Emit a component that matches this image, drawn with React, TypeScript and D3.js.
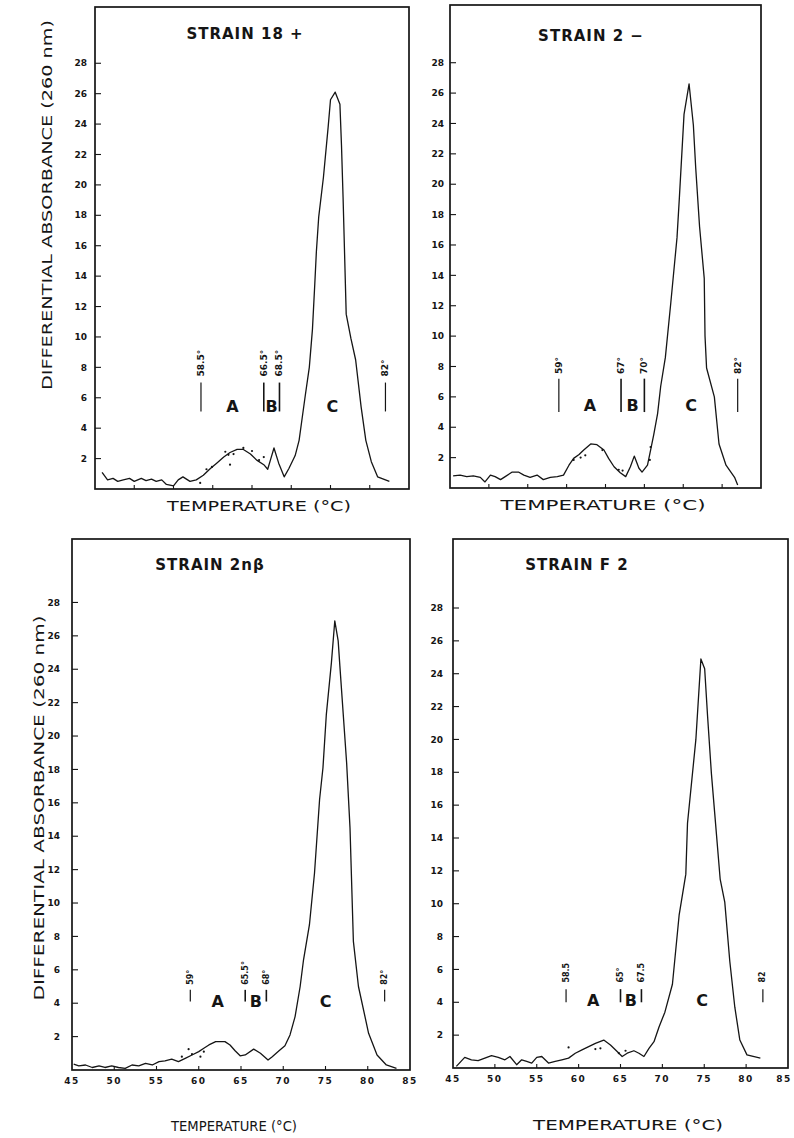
import React from "react";
import * as d3 from "d3";

// shared axis values
const tempTicks = [45, 50, 55, 60, 65, 70, 75, 80, 85];
const absTicks = [2, 4, 6, 8, 10, 12, 14, 16, 18, 20, 22, 24, 26, 28];
const regionNames = ["A", "B", "C"];

// STRAIN 18 +
const s18Temp = [45.9, 46.6, 47.3, 47.9, 48.6, 49.4, 50.0, 50.9, 51.5, 52.2, 52.8, 53.5, 54.1, 55.0, 55.6, 56.2, 57.1, 57.9, 58.8, 59.7, 60.5, 61.4, 62.2, 63.1, 63.9, 64.8, 65.6, 66.5, 67.0, 67.4, 67.8, 68.4, 69.1, 69.7, 70.5, 71.0, 71.4, 71.8, 72.3, 72.7, 73.0, 73.2, 73.5, 74.1, 74.7, 75.0, 75.6, 76.2, 76.4, 76.6, 77.0, 77.6, 78.2, 78.9, 79.5, 80.2, 81.0, 82.5];
const s18Abs = [1.1, 0.6, 0.7, 0.5, 0.6, 0.7, 0.5, 0.7, 0.55, 0.65, 0.5, 0.6, 0.3, 0.2, 0.6, 0.8, 0.5, 0.6, 0.9, 1.35, 1.7, 2.1, 2.4, 2.6, 2.6, 2.3, 1.9, 1.6, 1.3, 2.0, 2.7, 1.7, 0.8, 1.35, 2.2, 3.2, 4.7, 6.2, 8.0, 10.5, 13.5, 15.6, 17.9, 20.5, 23.8, 25.6, 26.1, 25.3, 22.6, 19.2, 11.5, 9.9, 8.5, 5.4, 3.2, 1.8, 0.8, 0.5];
const s18DotTemp = [58.4, 59.2, 59.9, 61.6, 62.0, 62.2, 62.65, 63.9, 65.0, 65.9, 66.5];
const s18DotAbs = [0.4, 1.3, 1.45, 2.45, 2.25, 1.6, 2.3, 2.7, 2.5, 1.9, 2.1];
const s18Bounds = [58.5, 66.5, 68.5, 82];
const s18BoundLabels = ["58.5°", "66.5°", "68.5°", "82°"];

// STRAIN 2 −
const s2Temp = [45.4, 46.3, 47.15, 48.0, 48.9, 49.5, 50.2, 50.8, 51.5, 52.1, 53.0, 53.8, 54.5, 55.3, 56.2, 57.0, 57.9, 58.8, 59.6, 60.3, 60.9, 61.6, 62.2, 63.1, 63.9, 64.8, 65.4, 66.1, 66.9, 67.6, 68.2, 68.7, 69.3, 69.7, 70.4, 70.8, 71.2, 71.7, 72.1, 72.7, 73.4, 74.2, 74.5, 75.1, 75.75, 76.3, 76.6, 77.1, 77.7, 77.8, 78.0, 79.0, 79.6, 80.5, 81.6, 82.0];
const s2Abs = [0.8, 0.85, 0.75, 0.8, 0.7, 0.4, 0.85, 0.75, 0.55, 0.75, 1.05, 1.05, 0.85, 0.7, 0.85, 0.55, 0.7, 0.75, 0.85, 1.5, 1.95, 2.2, 2.5, 2.9, 2.85, 2.5, 1.95, 1.4, 1.0, 0.75, 1.4, 2.1, 1.3, 1.05, 1.5, 2.5, 3.5, 4.9, 6.7, 8.6, 12.2, 16.5, 19.1, 24.6, 26.6, 23.9, 21.1, 17.2, 13.8, 10.0, 7.9, 6.0, 2.9, 1.5, 0.7, 0.2];
const s2DotTemp = [60.9, 61.8, 62.4, 64.6, 66.7, 67.2, 70.7, 70.8];
const s2DotAbs = [1.85, 2.0, 2.15, 2.5, 1.2, 1.15, 1.85, 2.7];
const s2Bounds = [59, 67, 70, 82];
const s2BoundLabels = ["59°", "67°", "70°", "82°"];

// STRAIN 2nβ
const s2nbTemp = [45.2, 45.8, 46.6, 47.4, 48.2, 48.9, 49.7, 50.5, 51.3, 52.1, 52.9, 53.7, 54.5, 55.3, 56.0, 56.8, 57.6, 58.4, 59.2, 60.0, 60.6, 61.2, 62.0, 63.1, 63.7, 64.3, 64.9, 65.5, 66.5, 67.3, 68.2, 68.7, 69.5, 70.2, 70.8, 71.4, 72.0, 72.4, 73.1, 73.7, 74.3, 74.7, 75.1, 75.7, 76.1, 76.5, 76.7, 77.5, 77.9, 78.3, 78.9, 80.1, 81.1, 82.2, 83.4];
const s2nbAbs = [0.35, 0.25, 0.3, 0.15, 0.25, 0.15, 0.25, 0.15, 0.1, 0.3, 0.25, 0.4, 0.3, 0.5, 0.55, 0.65, 0.5, 0.7, 0.9, 1.1, 1.3, 1.5, 1.7, 1.7, 1.5, 1.15, 0.85, 0.9, 1.25, 1.0, 0.6, 0.8, 1.15, 1.45, 2.1, 3.2, 5.0, 6.6, 8.7, 11.8, 16.2, 18.1, 21.3, 24.4, 26.9, 25.7, 24.2, 18.4, 14.5, 7.7, 5.0, 2.2, 0.9, 0.3, 0.1];
const s2nbDotTemp = [58.0, 58.8, 59.2, 60.2, 60.6];
const s2nbDotAbs = [0.8, 1.25, 0.95, 0.8, 1.1];
const s2nbBounds = [59, 65.5, 68, 82];
const s2nbBoundLabels = ["59°", "65.5°", "68°", "82°"];

// STRAIN F 2
const sF2Temp = [45.4, 46.4, 47.2, 48.0, 48.8, 49.6, 50.4, 51.2, 51.8, 52.6, 53.2, 53.8, 54.4, 55.0, 55.6, 56.4, 57.2, 58.0, 58.8, 59.6, 60.4, 61.2, 62.0, 63.0, 63.8, 64.6, 65.2, 65.8, 66.6, 67.2, 67.8, 68.4, 69.0, 69.6, 70.3, 71.2, 72.0, 72.8, 73.0, 74.0, 74.6, 75.05, 75.4, 75.85, 76.25, 76.9, 77.45, 78.05, 78.65, 79.25, 80.1, 81.7];
const sF2Abs = [0.1, 0.65, 0.5, 0.45, 0.6, 0.75, 0.65, 0.5, 0.7, 0.2, 0.5, 0.4, 0.3, 0.65, 0.7, 0.3, 0.4, 0.5, 0.6, 0.9, 1.1, 1.3, 1.5, 1.7, 1.4, 1.0, 0.7, 0.9, 1.05, 0.9, 0.7, 1.2, 1.6, 2.5, 3.4, 5.1, 9.3, 11.8, 14.9, 20.0, 24.9, 24.3, 21.4, 17.95, 15.5, 11.5, 10.1, 6.5, 3.7, 1.7, 0.8, 0.6];
const sF2DotTemp = [58.8, 62.0, 62.6, 64.8, 65.6];
const sF2DotAbs = [1.25, 1.15, 1.2, 0.9, 1.05];
const sF2Bounds = [58.5, 65, 67.5, 82];
const sF2BoundLabels = ["58.5", "65°", "67.5", "82"];

const FONT = "'DejaVu Sans', 'Liberation Sans', sans-serif";
const INK = "#151515";

type Layout = {
  left: number; top: number; right: number; bottom: number; yMax: number;
  titleX: number; titleY: number;
  tickGap: number; showTempLabels: boolean;
  xTitleX: number; xTitleY: number; xTitleLen: number;
  yTitle?: { x: number; y: number; len: number };
  mark: [number, number]; markText: number; letterBase: number; markFont: number;
};

type PanelProps = {
  title: string; temp: number[]; abs: number[]; dotTemp: number[]; dotAbs: number[];
  bounds: number[]; boundLabels: string[]; lay: Layout;
};

function Panel({ title, temp, abs, dotTemp, dotAbs, bounds, boundLabels, lay }: PanelProps) {
  const x = d3.scaleLinear().domain([45, 85]).range([lay.left, lay.right]);
  const y = d3.scaleLinear().domain([0, lay.yMax]).range([lay.bottom, lay.top]);
  const line = d3.line<number>().x((d, i) => x(temp[i])).y((d) => y(d));
  const mids = [0, 1, 2].map((i) => (bounds[i] + bounds[i + 1]) / 2);

  return (
    <g>
      <rect x={lay.left} y={lay.top} width={lay.right - lay.left} height={lay.bottom - lay.top}
        fill="none" stroke={INK} strokeWidth={1.7} />
      <text x={lay.titleX} y={lay.titleY} textAnchor="middle" fontFamily={FONT} fontWeight="bold"
        fontSize={15} fill={INK} letterSpacing={1}>{title}</text>

      {absTicks.map((t) => (
        <g key={"y" + t}>
          <line x1={lay.left} x2={lay.left + 6} y1={y(t)} y2={y(t)} stroke={INK} strokeWidth={1.1} />
          <text x={lay.left - lay.tickGap} y={y(t)} dy="0.35em" textAnchor="end" fontFamily={FONT}
            fontWeight="bold" fontSize={9} fill={INK}>{t}</text>
        </g>
      ))}
      {tempTicks.slice(1, -1).map((t) => (
        <line key={"xt" + t} x1={x(t)} x2={x(t)} y1={lay.bottom} y2={lay.bottom - 4} stroke={INK} strokeWidth={1.1} />
      ))}
      {lay.showTempLabels && tempTicks.map((t) => (
        <text key={"xl" + t} x={Math.min(x(t), 784)} y={lay.bottom + 14} textAnchor="middle" fontFamily={FONT}
          fontWeight="bold" fontSize={9} fill={INK} letterSpacing={1.5}>{t}</text>
      ))}

      <path d={line(abs) || ""} fill="none" stroke={INK} strokeWidth={1.3} strokeLinejoin="round" />
      {dotTemp.map((t, i) => (
        <circle key={"d" + i} cx={x(t)} cy={y(dotAbs[i])} r={1.1} fill={INK} />
      ))}

      {bounds.map((b, i) => (
        <g key={"b" + i}>
          <line x1={x(b)} x2={x(b)} y1={y(lay.mark[0])} y2={y(lay.mark[1])} stroke={INK}
            strokeWidth={i === 1 || i === 2 ? 1.6 : 1.2} />
          <text transform={`translate(${x(b)},${y(lay.markText)}) rotate(-90)`} textAnchor="start"
            dominantBaseline="central" fontFamily={FONT} fontWeight="bold" fontSize={lay.markFont} fill={INK}>
            {boundLabels[i]}
          </text>
        </g>
      ))}
      {mids.map((m, i) => (
        <text key={"r" + i} x={x(m)} y={y(lay.letterBase)} textAnchor="middle" fontFamily={FONT}
          fontWeight="bold" fontSize={16} fill={INK}>{regionNames[i]}</text>
      ))}

      <text x={lay.xTitleX} y={lay.xTitleY} textAnchor="middle" fontFamily={FONT} fontSize={14}
        fill={INK} textLength={lay.xTitleLen} lengthAdjust="spacingAndGlyphs">TEMPERATURE (°C)</text>
      {lay.yTitle && (
        <text transform={`translate(${lay.yTitle.x},${lay.yTitle.y}) rotate(-90)`} textAnchor="middle"
          dominantBaseline="central" fontFamily={FONT} fontSize={14} fill={INK}
          textLength={lay.yTitle.len} lengthAdjust="spacingAndGlyphs">DIFFERENTIAL  ABSORBANCE  (260 nm)</text>
      )}
    </g>
  );
}

const lay18: Layout = {
  left: 95, top: 7, right: 409, bottom: 489, yMax: 31.7,
  titleX: 245, titleY: 39, tickGap: 8, showTempLabels: false,
  xTitleX: 259, xTitleY: 511, xTitleLen: 184,
  yTitle: { x: 47, y: 205, len: 370 },
  mark: [5.1, 7.0], markText: 7.4, letterBase: 5.05, markFont: 9,
};
const lay2: Layout = {
  left: 450, top: 5, right: 761, bottom: 488, yMax: 31.8,
  titleX: 591, titleY: 41, tickGap: 6, showTempLabels: false,
  xTitleX: 603, xTitleY: 510, xTitleLen: 205,
  mark: [5.0, 7.2], markText: 7.5, letterBase: 5.1, markFont: 9,
};
const lay2nb: Layout = {
  left: 72, top: 539, right: 410, bottom: 1070, yMax: 31.8,
  titleX: 210, titleY: 570, tickGap: 12, showTempLabels: true,
  xTitleX: 234, xTitleY: 1131, xTitleLen: 126,
  yTitle: { x: 39, y: 808, len: 385 },
  mark: [4.1, 4.8], markText: 5.1, letterBase: 3.75, markFont: 8,
};
const layF2: Layout = {
  left: 453, top: 539, right: 788, bottom: 1068, yMax: 32.2,
  titleX: 577, titleY: 570, tickGap: 10, showTempLabels: true,
  xTitleX: 628, xTitleY: 1130, xTitleLen: 190,
  mark: [4.0, 4.8], markText: 5.2, letterBase: 3.8, markFont: 8,
};

export default function App() {
  return (
    <svg width={794} height={1138} viewBox="0 0 794 1138"
      style={{ position: "absolute", left: 0, top: 0, background: "#fff" }}>
      <rect width={794} height={1138} fill="#fff" />
      <Panel title="STRAIN 18 +" temp={s18Temp} abs={s18Abs} dotTemp={s18DotTemp} dotAbs={s18DotAbs}
        bounds={s18Bounds} boundLabels={s18BoundLabels} lay={lay18} />
      <Panel title="STRAIN 2 −" temp={s2Temp} abs={s2Abs} dotTemp={s2DotTemp} dotAbs={s2DotAbs}
        bounds={s2Bounds} boundLabels={s2BoundLabels} lay={lay2} />
      <Panel title="STRAIN 2nβ" temp={s2nbTemp} abs={s2nbAbs} dotTemp={s2nbDotTemp} dotAbs={s2nbDotAbs}
        bounds={s2nbBounds} boundLabels={s2nbBoundLabels} lay={lay2nb} />
      <Panel title="STRAIN F 2" temp={sF2Temp} abs={sF2Abs} dotTemp={sF2DotTemp} dotAbs={sF2DotAbs}
        bounds={sF2Bounds} boundLabels={sF2BoundLabels} lay={layF2} />
    </svg>
  );
}
